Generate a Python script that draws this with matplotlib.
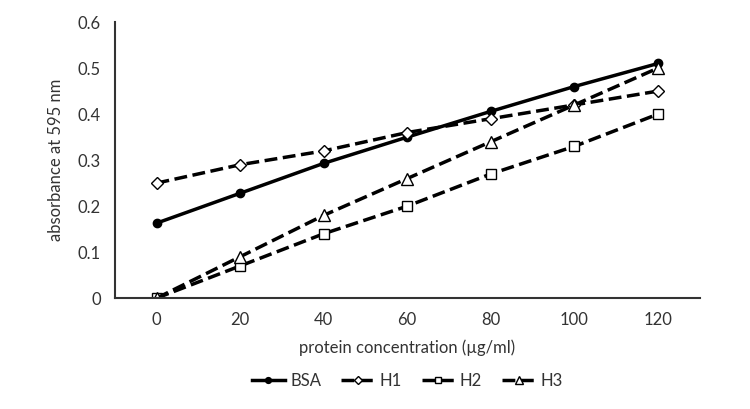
import matplotlib.pyplot as plt
import numpy as np

plt.rcParams['font.family'] = ['Lato', 'DejaVu Sans']

conc = [0, 20, 40, 60, 80, 100, 120]
bsa = [0.163, 0.228, 0.293, 0.35, 0.406, 0.46, 0.51]
h1 = [0.25, 0.29, 0.32, 0.36, 0.39, 0.42, 0.45]
h2 = [0.0, 0.07, 0.14, 0.20, 0.27, 0.33, 0.40]
h3 = [0.0, 0.09, 0.18, 0.26, 0.34, 0.42, 0.50]

fig = plt.figure(figsize=(7.5, 4.09), dpi=100)
ax = fig.add_axes([0.153, 0.271, 0.78, 0.675])

x = np.arange(len(conc))
ax.plot(x, bsa, '-', color='black', lw=2.5, marker='o', ms=6, label='BSA')
ax.plot(x, h1, '--', color='black', lw=2.5, marker='D', ms=6, mfc='white', label='H1')
ax.plot(x, h2, '--', color='black', lw=2.5, marker='s', ms=7, mfc='white', label='H2')
ax.plot(x, h3, '--', color='black', lw=2.5, marker='^', ms=8, mfc='white', label='H3')

ax.set_xlim(-0.5, 6.5)
ax.set_ylim(0, 0.6)
ax.set_xticks(x)
ax.set_xticklabels([str(c) for c in conc])
ax.set_yticks([0, 0.1, 0.2, 0.3, 0.4, 0.5, 0.6])
ax.set_yticklabels(['0', '0.1', '0.2', '0.3', '0.4', '0.5', '0.6'])
ax.tick_params(length=0, labelsize=12, colors='#333333', pad=10)
for s in ['top', 'right']:
    ax.spines[s].set_visible(False)
for s in ['left', 'bottom']:
    ax.spines[s].set_color('#333333')
    ax.spines[s].set_linewidth(1.5)

ax.set_xlabel('protein concentration (µg/ml)', fontsize=12, color='#333333', labelpad=8)
ax.set_ylabel('absorbance at 595 nm', fontsize=12, color='#333333', labelpad=10)

ax.legend(loc='center', bbox_to_anchor=(0.5, -0.30), ncol=4, frameon=False,
          fontsize=12, handlelength=2.0, columnspacing=1.2, handletextpad=0.3,
          markerscale=0.7, labelcolor='#333333')

fig.savefig('out.png', dpi=100)
